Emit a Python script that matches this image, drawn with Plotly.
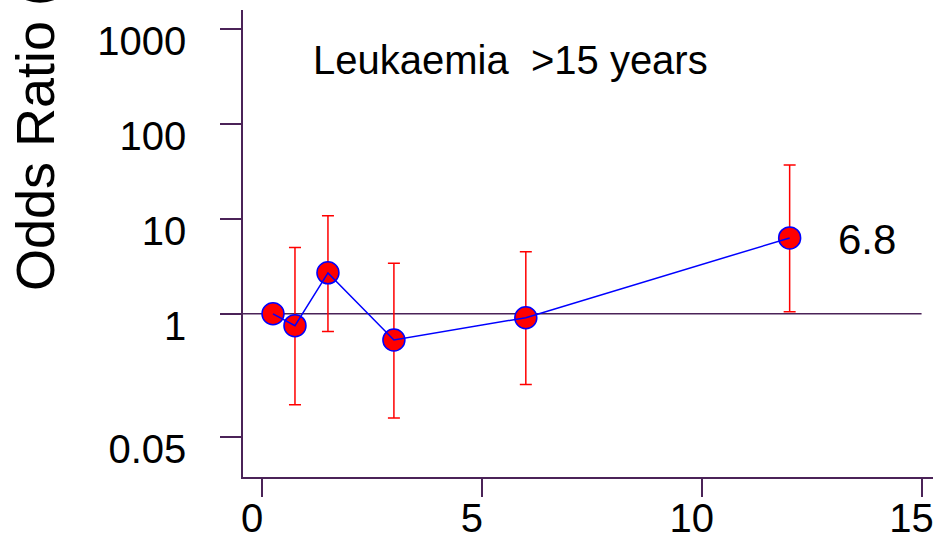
import plotly.graph_objects as go

# Data
years = [0.25, 0.75, 1.5, 3.0, 6.0, 12.0]
odds_ratio = [1.0, 0.75, 2.7, 0.53, 0.91, 6.3]
ci_upper = [1.0, 5.0, 10.8, 3.4, 4.5, 37.0]
ci_lower = [1.0, 0.11, 0.65, 0.08, 0.18, 1.05]

x_ticks = [0, 5, 10, 15]
y_ticks = [0.05, 1, 10, 100, 1000]
y_tick_labels = ["0.05", "1", "10", "100", "1000"]

title_text = "Leukaemia\u00a0 >15 years"
y_title = "Odds Ratio (95% CI)"
last_label = "6.8"

err_plus = [u - o for u, o in zip(ci_upper, odds_ratio)]
err_minus = [o - l for o, l in zip(odds_ratio, ci_lower)]

AXC = "#4b2358"
FONT = "Liberation Sans, Arial, sans-serif"

fig = go.Figure()

fig.add_trace(go.Scatter(
    x=years, y=odds_ratio, mode="markers",
    marker=dict(size=22, color="red", line=dict(color="blue", width=1.5)),
    error_y=dict(type="data", symmetric=False, array=err_plus, arrayminus=err_minus,
                 color="red", thickness=1.5, width=6),
    showlegend=False, hoverinfo="skip",
))
fig.add_trace(go.Scatter(
    x=years, y=odds_ratio, mode="lines",
    line=dict(color="blue", width=1.5),
    showlegend=False, hoverinfo="skip",
))

# reference line at OR = 1
fig.add_shape(type="line", xref="x", yref="y", x0=-0.432, x1=15, y0=1, y1=1,
              line=dict(color=AXC, width=1.5), layer="below")

fig.add_annotation(text=title_text, xref="paper", yref="paper", x=0.3877, y=0.893,
                   xanchor="center", yanchor="middle", showarrow=False,
                   font=dict(size=40, color="black", family=FONT))
fig.add_annotation(text=last_label, xref="x", yref="y", x=13.77, y=0.779,
                   xanchor="center", yanchor="middle", showarrow=False,
                   font=dict(size=42, color="black", family=FONT))
fig.add_annotation(text=y_title, xref="paper", yref="paper", x=-0.3013, y=0.394,
                   xanchor="center", yanchor="bottom", textangle=-90, showarrow=False,
                   font=dict(size=54, color="black", family=FONT))

fig.update_xaxes(range=[-0.432, 15.26], tickvals=x_ticks, ticks="outside", ticklen=18,
                 tickwidth=1.5, tickcolor=AXC, showline=True, linecolor=AXC, linewidth=1.5,
                 showgrid=False, zeroline=False, ticklabelstandoff=-13, ticklabelshift=-10,
                 automargin=False, ticklabeloverflow="allow",
                 tickfont=dict(size=40, color="black", family=FONT))
fig.update_yaxes(type="log", range=[-1.719, 3.2], tickvals=y_ticks, ticktext=y_tick_labels,
                 ticks="outside", ticklen=21, tickwidth=1.5, tickcolor=AXC,
                 showline=True, linecolor=AXC, linewidth=1.5, showgrid=False, zeroline=False,
                 ticklabelstandoff=26, ticklabelshift=12, automargin=False,
                 ticklabeloverflow="allow",
                 tickfont=dict(size=40, color="black", family=FONT))

fig.update_layout(width=933, height=540, margin=dict(l=243, r=0, t=10, b=63),
                  plot_bgcolor="white", paper_bgcolor="white",
                  font=dict(family=FONT))

fig.write_html("out.html")
